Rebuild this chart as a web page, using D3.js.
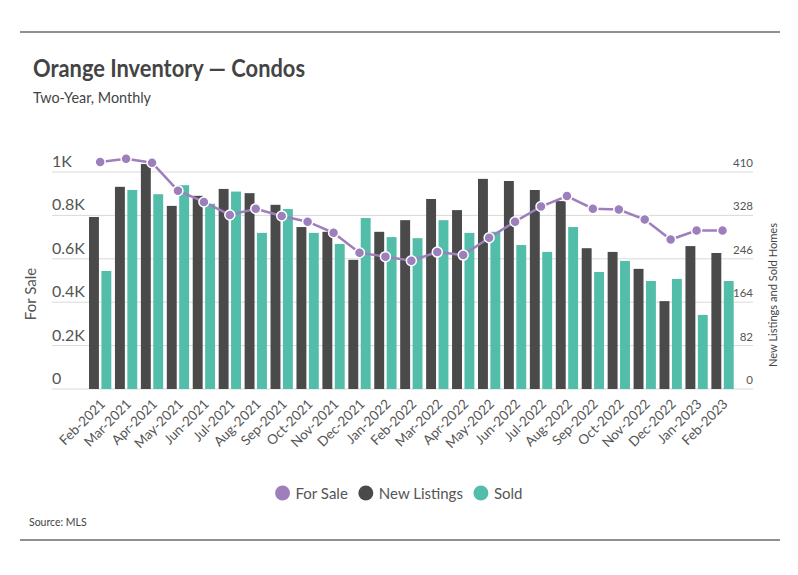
<!DOCTYPE html>
<html>
<head>
<meta charset="utf-8">
<script src="https://cdn.jsdelivr.net/npm/d3@7"></script>
<style>
  body { margin: 0; background: #fff; }
  svg { display: block; font-family: Lato, "Open Sans", sans-serif; }
</style>
</head>
<body>
<svg id="chart" width="798" height="575"></svg>
<script>
const months = ["Feb-2021","Mar-2021","Apr-2021","May-2021","Jun-2021","Jul-2021","Aug-2021","Sep-2021","Oct-2021","Nov-2021","Dec-2021","Jan-2022","Feb-2022","Mar-2022","Apr-2022","May-2022","Jun-2022","Jul-2022","Aug-2022","Sep-2022","Oct-2022","Nov-2022","Dec-2022","Jan-2023","Feb-2023"];
const forSale = [1046,1061,1043,914,862,802,831,797,771,720,628,610,591,631,617,697,771,841,889,831,827,781,689,730,730];
const newListings = [325,382,425,346,365,378,370,348,306,297,244,297,319,359,338,397,393,376,355,266,259,227,166,270,257];
const sold = [223,376,368,385,350,373,295,340,295,274,323,287,285,319,295,297,272,259,306,221,242,204,208,140,204];
const leftTicks = [0,200,400,600,800,1000];
const leftTickLabels = ["0","0.2K","0.4K","0.6K","0.8K","1K"];
const rightTicks = [0,82,164,246,328,410];

const colors = { forSale: "#9d7fbb", newListings: "#4a4a4a", sold: "#52bea9" };

const svg = d3.select("#chart");
const y0 = 389, yTop = 172;
const gridX1 = 52, gridX2 = 753;

const yL = d3.scaleLinear().domain([0, 1000]).range([y0, yTop]);
const yR = d3.scaleLinear().domain([0, 410]).range([y0, yTop]);
const x0 = d3.scaleBand().domain(months).range([87.2, 735.5]).paddingInner(0.14).paddingOuter(0.07);
const x1 = d3.scaleBand().domain(["newListings","sold"]).range([0, x0.bandwidth()]).paddingInner(0.2);

// rules
svg.append("line").attr("x1",20).attr("x2",780).attr("y1",32).attr("y2",32).attr("stroke","#222").attr("stroke-width",1.2);
svg.append("line").attr("x1",20).attr("x2",780).attr("y1",540).attr("y2",540).attr("stroke","#222").attr("stroke-width",1.2);

// title
svg.append("text").attr("x",33).attr("y",77).attr("font-size",24).attr("font-weight","bold").attr("fill","#444")
  .attr("textLength",272).attr("lengthAdjust","spacingAndGlyphs").text("Orange Inventory — Condos");
svg.append("text").attr("x",33).attr("y",103).attr("font-size",15).attr("fill","#444")
  .attr("textLength",118).attr("lengthAdjust","spacingAndGlyphs").text("Two-Year, Monthly");

// gridlines
svg.append("g").selectAll("line").data(leftTicks).join("line")
  .attr("x1",gridX1).attr("x2",gridX2)
  .attr("y1",d=>yL(d)).attr("y2",d=>yL(d))
  .attr("stroke","#d9d9d9").attr("stroke-width",1);

// left tick labels
svg.append("g").selectAll("text").data(leftTicks).join("text")
  .attr("x",gridX1).attr("y",d=>yL(d)-5)
  .attr("font-size",16).attr("fill","#555")
  .text((d,i)=>leftTickLabels[i]);

// right tick labels
svg.append("g").selectAll("text").data(rightTicks).join("text")
  .attr("x",gridX2).attr("y",d=>yR(d)-5)
  .attr("text-anchor","end")
  .attr("font-size",11.5).attr("fill","#555")
  .text(d=>d);

// axis titles
svg.append("text").attr("transform","translate(36,294) rotate(-90)")
  .attr("text-anchor","middle").attr("font-size",15).attr("fill","#555").text("For Sale");
svg.append("text").attr("transform","translate(777,295) rotate(-90)")
  .attr("text-anchor","middle").attr("font-size",12).attr("fill","#444")
  .attr("textLength",144).attr("lengthAdjust","spacingAndGlyphs").text("New Listings and Sold Homes");

// bars
const groups = svg.append("g").selectAll("g").data(months).join("g")
  .attr("transform",d=>`translate(${x0(d)},0)`);
groups.append("rect")
  .attr("x",x1("newListings")).attr("width",x1.bandwidth())
  .attr("y",(d,i)=>yR(newListings[i])).attr("height",(d,i)=>y0-yR(newListings[i]))
  .attr("fill",colors.newListings);
groups.append("rect")
  .attr("x",x1("sold")).attr("width",x1.bandwidth())
  .attr("y",(d,i)=>yR(sold[i])).attr("height",(d,i)=>y0-yR(sold[i]))
  .attr("fill",colors.sold);

// x labels
svg.append("g").selectAll("text").data(months).join("text")
  .attr("transform",d=>`translate(${x0(d)+x0.bandwidth()/2+6},${y0+16}) rotate(-45)`)
  .attr("text-anchor","end").attr("font-size",13.5).attr("fill","#555")
  .text(d=>d);

// for sale line
const cx = d=>x0(d)+x0.bandwidth()/2;
const line = d3.line().x((d,i)=>cx(months[i])).y(d=>yL(d));
svg.append("path").datum(forSale).attr("d",line)
  .attr("fill","none").attr("stroke",colors.forSale).attr("stroke-width",2.5);
svg.append("g").selectAll("circle").data(forSale).join("circle")
  .attr("cx",(d,i)=>cx(months[i])).attr("cy",d=>yL(d)).attr("r",5)
  .attr("fill",colors.forSale).attr("stroke","#fff").attr("stroke-width",1.5);

// legend
const legendItems = [["For Sale",colors.forSale],["New Listings",colors.newListings],["Sold",colors.sold]];
const lg = svg.append("g");
let lx = 0;
legendItems.forEach(([label,color],i)=>{
  lg.append("circle").attr("cx",lx+7).attr("cy",0).attr("r",7.5).attr("fill",color);
  const t = lg.append("text").attr("x",lx+20).attr("y",5.5).attr("font-size",15).attr("fill","#555").text(label);
  lx += 20 + t.node().getComputedTextLength() + 11;
});
const lw = lx - 11;
lg.attr("transform",`translate(${399 - lw/2},493)`);

// source
svg.append("text").attr("x",29).attr("y",526).attr("font-size",10.5).attr("fill","#444").text("Source: MLS");
</script>
</body>
</html>
